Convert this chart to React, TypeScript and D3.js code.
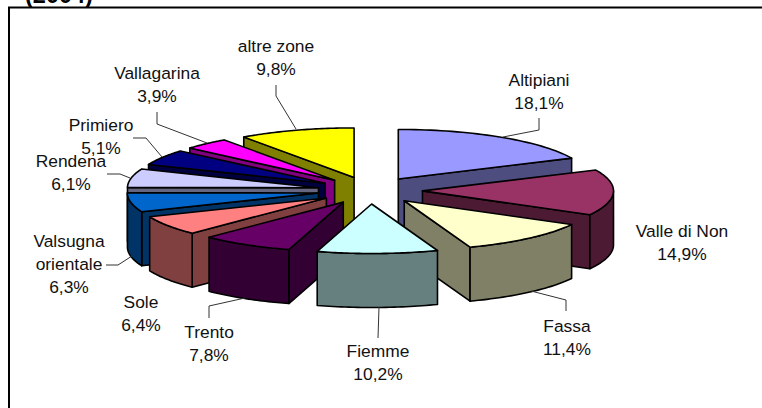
import React from "react";
import * as d3 from "d3";

// Share of each zone, in percent, going clockwise from twelve o'clock
const zones = ["Altipiani", "Valle di Non", "Fassa", "Fiemme", "Trento", "Sole", "Valsugna orientale", "Rendena", "Primiero", "Vallagarina", "altre zone"];
const shares = [18.1, 14.9, 11.4, 10.2, 7.8, 6.4, 6.3, 6.1, 5.1, 3.9, 9.8];
const topColors = ["#9999FF", "#993366", "#FFFFCC", "#CCFFFF", "#660066", "#FF8080", "#0066CC", "#CCCCFF", "#000080", "#FF00FF", "#FFFF00"];
const sideColors = ["#4D4D80", "#4D1A33", "#808066", "#668080", "#330033", "#804040", "#003366", "#666680", "#000040", "#800080", "#808000"];

const W = 762;
const H = 408;
const TAU = Math.PI * 2;
const CX = 370;
const CY = 190.4;
const RX = 191;
const RY = 49.5;
const DEPTH = 54;
const EXPLODE = 0.275;
const FONT = '"Liberation Sans", Arial, sans-serif';

const xs = d3.scaleLinear().domain([-1, 1]).range([CX - RX, CX + RX]);
const ys = d3.scaleLinear().domain([-1, 1]).range([CY - RY, CY + RY]);

type P = [number, number];
const line = d3.line<P>().x((d) => d[0]).y((d) => d[1]);
const closed = (pts: P[]) => line(pts) + "Z";

// Text blocks and their leader lines around the pie
const labelLayout: { lines: string[]; x: number; y: number; leader: P[] }[] = [
  { lines: ["Altipiani", "18,1%"], x: 539, y: 86, leader: [[539, 118], [539, 130], [503, 137]] },
  { lines: ["Valle di Non", "14,9%"], x: 682, y: 237, leader: [] },
  { lines: ["Fassa", "11,4%"], x: 567, y: 332, leader: [[566, 311], [566, 300], [531, 291]] },
  { lines: ["Fiemme", "10,2%"], x: 378, y: 357, leader: [[378, 338], [379, 307]] },
  { lines: ["Trento", "7,8%"], x: 209, y: 338, leader: [[209, 318], [209, 306], [245, 298]] },
  { lines: ["Sole", "6,4%"], x: 141, y: 308, leader: [] },
  { lines: ["Valsugna", "orientale", "6,3%"], x: 69, y: 247, leader: [[106, 265], [118, 265], [132, 256]] },
  { lines: ["Rendena", "6,1%"], x: 71, y: 167, leader: [[107, 174], [120, 174], [130, 178]] },
  { lines: ["Primiero", "5,1%"], x: 101, y: 131, leader: [[133, 138], [146, 138], [162, 157]] },
  { lines: ["Vallagarina", "3,9%"], x: 157, y: 79, leader: [[157, 112], [157, 124], [207, 143]] },
  { lines: ["altre zone", "9,8%"], x: 276, y: 52, leader: [[276, 85], [276, 96], [296, 129]] },
];

const pieGen = d3.pie<number>().sort(null).startAngle(0).endAngle(TAU).value((d) => d);

const slices = pieGen(shares).map((arc, i) => {
  const mid = (arc.startAngle + arc.endAngle) / 2;
  const ax = xs(Math.sin(mid) * EXPLODE);
  const ay = ys(-Math.cos(mid) * EXPLODE);
  // A point on this wedge's rim at angle t, lifted off the pie centre
  const rim = (t: number, drop = 0): P => [
    xs(Math.sin(t)) - CX + ax,
    ys(-Math.cos(t)) - CY + ay + drop,
  ];
  const steps = d3.range(0, 41).map((k) => arc.startAngle + ((arc.endAngle - arc.startAngle) * k) / 40);
  const top: P[] = [[ax, ay], ...steps.map((t) => rim(t))];

  const walls: P[][] = [];
  const radialWall = (t: number): P[] => [[ax, ay], rim(t), rim(t, DEPTH), [ax, ay + DEPTH]];
  if (Math.sin(arc.startAngle) < -1e-6) walls.push(radialWall(arc.startAngle));
  if (Math.sin(arc.endAngle) > 1e-6) walls.push(radialWall(arc.endAngle));

  // Only the rim between 3 and 9 o'clock faces the viewer
  const from = Math.max(arc.startAngle, Math.PI / 2);
  const to = Math.min(arc.endAngle, (Math.PI * 3) / 2);
  if (to > from) {
    const front = d3.range(0, 31).map((k) => from + ((to - from) * k) / 30);
    walls.push([...front.map((t) => rim(t)), ...front.slice().reverse().map((t) => rim(t, DEPTH))]);
  }
  return { i, depth: -Math.cos(mid), top, walls };
});

// Paint from the back of the pie to the front
const ordered = slices.slice().sort((a, b) => d3.ascending(a.depth, b.depth));

export default function App() {
  return (
    <svg width={W} height={H} style={{ position: "absolute", left: 0, top: 0, background: "#fff" }} fontFamily={FONT}>
      <text x={25} y={3} fontSize={23.5} fontWeight="bold" fill="#000">(2004)</text>
      <rect x={9} y={7.5} width={W + 20} height={H + 20} fill="none" stroke="#000" strokeWidth={2} />
      {ordered.map((s) => (
        <g key={zones[s.i]} stroke="#000" strokeWidth={1.6} strokeLinejoin="round">
          {s.walls.map((w, k) => (
            <path key={k} d={closed(w)} fill={sideColors[s.i]} />
          ))}
          <path d={closed(s.top)} fill={topColors[s.i]} />
        </g>
      ))}
      {labelLayout.map((l) => (
        <g key={l.lines[0]}>
          {l.leader.length > 0 && <path d={line(l.leader) ?? ""} fill="none" stroke="#333" strokeWidth={1} />}
          <text fontSize={17.4} fill="#111" textAnchor="middle">
            {l.lines.map((t, k) => (
              <tspan key={k} x={l.x} y={l.y + k * 23}>{t}</tspan>
            ))}
          </text>
        </g>
      ))}
    </svg>
  );
}
